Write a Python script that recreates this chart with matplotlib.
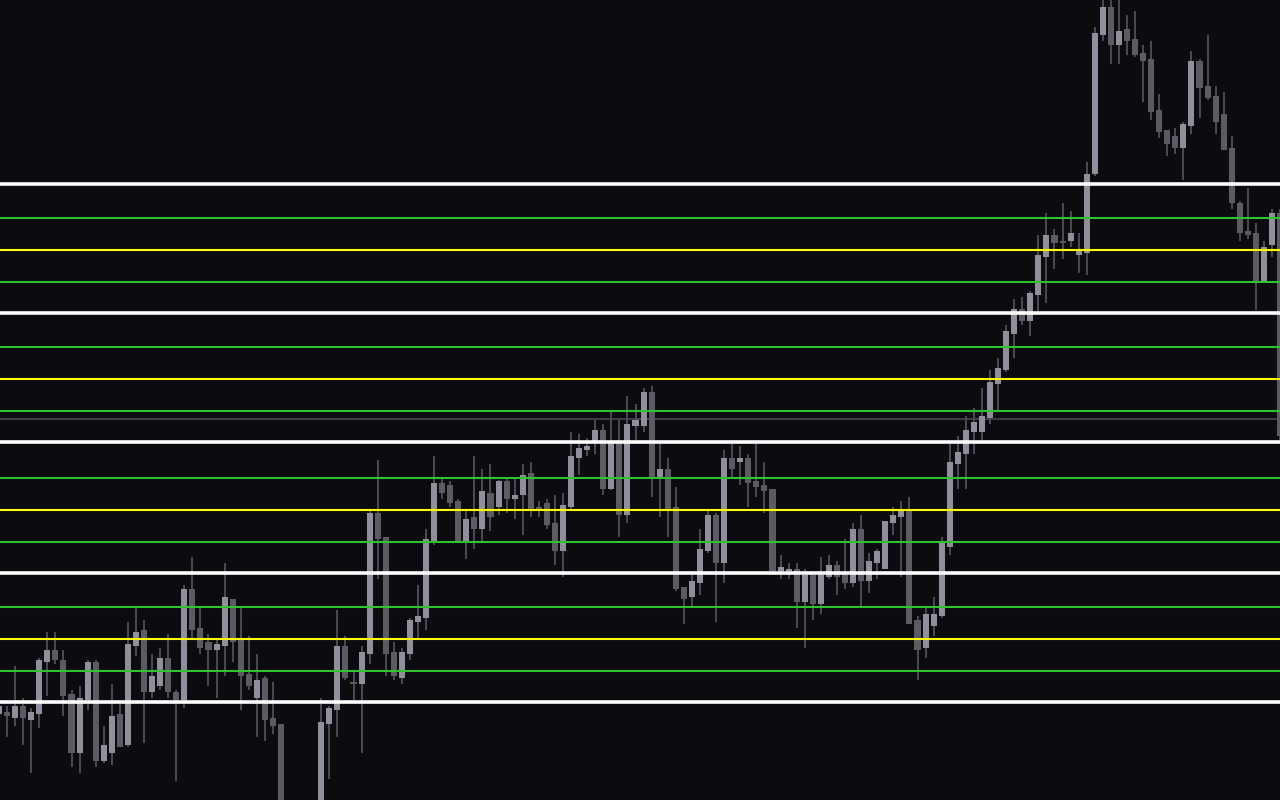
import matplotlib
matplotlib.use("Agg")
import matplotlib.pyplot as plt
import numpy as np

# Candle data (price units)
opens = [86, 88, 82, 94, 80, 86, 138, 150, 140, 106,
         47, 100, 138, 39, 47, 86, 55, 154, 170, 108,
         114, 142, 108, 100, 211, 172, 158, 150, 154, 201,
         160, 126, 102, 122, 82, 76, -35, -52, -28, -46,
         -18, 76, 90, 154, 118, 116, 146, 287, 263, 148,
         122, 146, 178, 182, 258, 317, 315, 299, 259, 283,
         271, 307, 293, 319, 301, 305, 327, 293, 297, 277,
         249, 293, 342, 350, 359, 370, 311, 359, 285, 374,
         374, 408, 323, 331, 293, 213, 203, 217, 249, 285,
         237, 342, 338, 342, 319, 315, 311, 229, 229, 231,
         198, 225, 196, 223, 235, 225, 217, 271, 219, 237,
         231, 277, 283, 290, 180, 152, 174, 184, 253, 336,
         346, 368, 368, 382, 416, 430, 466, 491, 479, 505,
         543, 565, 559, 559, 545, 547, 626, 765, 793, 755,
         771, 761, 747, 741, 690, 670, 664, 652, 674, 739,
         714, 704, 686, 652, 597, 569, 567, 519, 555, 587]

highs = [96, 94, 134, 102, 92, 142, 168, 168, 150, 110,
         114, 140, 140, 74, 116, 96, 178, 192, 180, 146,
         152, 166, 110, 215, 243, 192, 166, 160, 237, 201,
         192, 164, 146, 124, 118, 76, -12, -15, -20, -6,
         102, 94, 190, 164, 128, 154, 289, 340, 263, 158,
         152, 182, 215, 271, 344, 321, 319, 301, 289, 344,
         331, 336, 320, 321, 321, 336, 338, 299, 301, 305,
         307, 368, 366, 362, 380, 376, 388, 380, 404, 396,
         412, 414, 356, 342, 313, 213, 225, 271, 289, 287,
         350, 356, 354, 346, 356, 338, 311, 245, 237, 237,
         231, 225, 243, 245, 239, 261, 277, 285, 247, 251,
         279, 293, 299, 303, 184, 192, 203, 263, 356, 364,
         384, 392, 412, 430, 442, 475, 501, 503, 509, 565,
         587, 571, 597, 589, 567, 638, 773, 803, 802, 804,
         785, 789, 755, 759, 706, 670, 672, 678, 749, 741,
         765, 714, 708, 664, 599, 612, 577, 559, 591, 591]

lows = [84, 63, 74, 55, 27, 72, 104, 136, 84, 33,
        27, 90, 33, 37, 35, 53, 53, 144, 57, 102,
        110, 102, 19, 92, 162, 146, 114, 102, 124, 138,
        90, 110, 63, 59, 66, -45, -72, -60, -58, -52,
        -24, 21, 63, 120, 100, 47, 136, 221, 124, 120,
        116, 140, 162, 170, 255, 301, 293, 259, 241, 251,
        259, 269, 285, 287, 281, 265, 283, 283, 271, 235,
        223, 291, 325, 344, 346, 305, 310, 263, 277, 358,
        368, 303, 283, 263, 209, 176, 193, 205, 247, 178,
        217, 323, 315, 293, 303, 287, 229, 221, 221, 172,
        152, 180, 186, 221, 205, 211, 213, 194, 207, 221,
        231, 265, 223, 176, 120, 142, 164, 182, 245, 311,
        311, 346, 359, 376, 390, 428, 442, 475, 464, 489,
        497, 531, 541, 553, 527, 525, 624, 759, 736, 736,
        745, 743, 698, 680, 662, 644, 646, 620, 666, 682,
        700, 666, 650, 591, 559, 561, 490, 519, 543, 360]

closes = [94, 84, 94, 82, 88, 140, 150, 140, 104, 47,
          102, 138, 39, 55, 84, 53, 156, 168, 108, 124,
          142, 108, 100, 211, 170, 152, 150, 156, 203, 158,
          124, 114, 120, 80, 74, -35, -52, -28, -46, -18,
          78, 92, 154, 122, 116, 148, 287, 261, 146, 124,
          148, 180, 184, 261, 317, 307, 297, 259, 281, 271,
          309, 283, 319, 301, 305, 325, 291, 291, 275, 249,
          295, 344, 352, 354, 370, 311, 359, 285, 376, 380,
          408, 323, 331, 291, 211, 201, 219, 251, 285, 237,
          342, 331, 342, 317, 313, 309, 229, 233, 231, 198,
          225, 196, 225, 235, 223, 217, 271, 219, 239, 249,
          279, 285, 290, 176, 150, 186, 186, 258, 338, 348,
          370, 378, 384, 418, 432, 469, 491, 479, 507, 545,
          565, 557, 557, 567, 549, 626, 767, 793, 755, 769,
          759, 745, 739, 688, 668, 656, 652, 676, 739, 712,
          702, 678, 650, 597, 567, 565, 519, 553, 587, 364]

# Horizontal levels
white_levels = [616, 487, 358, 227, 98]
green_levels = [582.5, 518, 453, 389, 322, 258, 193, 129]
yellow_levels = [550, 421, 290, 161]
price_line = [381]

BG = "#0b0b10"
UP = "#8f909c"
DOWN = "#5b5b61"
WICK = "#4b4b53"

fig = plt.figure(figsize=(12.8, 8), dpi=100)
fig.patch.set_facecolor(BG)
ax = fig.add_axes([0, 0, 1, 1])
ax.set_facecolor(BG)

o = np.array(opens, float)
h = np.array(highs, float)
l = np.array(lows, float)
c = np.array(closes, float)
x = np.arange(len(o))
up = c >= o

for v in price_line:
    ax.axhline(v, color="#3d3d48", lw=1.5, zorder=1)

ax.vlines(x, l, h, colors=WICK, linewidth=1.4, zorder=2)
bottom = np.minimum(o, c)
height = np.maximum(np.abs(c - o), 1.8)
ax.bar(x, height, bottom=bottom, width=0.75,
       color=np.where(up, UP, DOWN), linewidth=0, zorder=3)

for v in green_levels:
    ax.axhline(v, color="#2fc42f", lw=1.5, zorder=4)
for v in yellow_levels:
    ax.axhline(v, color="#ffff00", lw=1.5, zorder=4)
for v in white_levels:
    ax.axhline(v, color="#ffffff", lw=2.6, zorder=5)

ax.set_xlim(0.124, 158.99)
ax.set_ylim(0, 800)
ax.axis("off")

fig.savefig("out.png", dpi=100, facecolor=BG)
